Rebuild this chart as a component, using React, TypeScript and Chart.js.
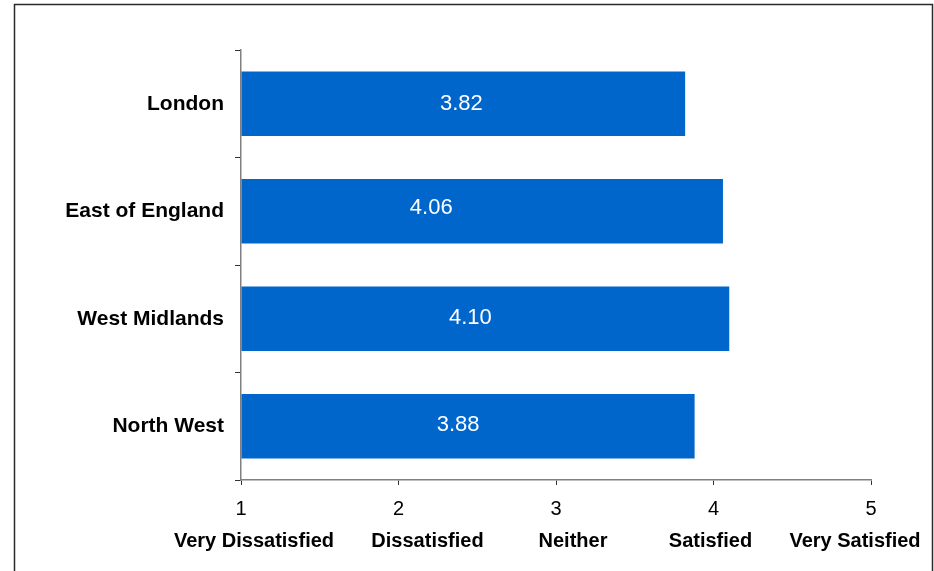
import React, { useEffect, useRef } from "react";
import { Chart, registerables } from "chart.js";

Chart.register(...registerables);

const regions = ["London", "East of England", "West Midlands", "North West"];
const scores = [3.82, 4.06, 4.1, 3.88];
const scaleValues = [1, 2, 3, 4, 5];
const scaleLabels = ["Very Dissatisfied", "Dissatisfied", "Neither", "Satisfied", "Very Satisfied"];

const FONT = "'Liberation Sans', Arial, Helvetica, sans-serif";
const AXIS_GRAY = "#808080";

const framePlugin = {
  id: "frame",
  afterDraw(chart: any) {
    const ctx = chart.ctx;
    ctx.save();
    ctx.strokeStyle = "#2a2a2a";
    ctx.lineWidth = 1.5;
    ctx.strokeRect(14.5, 4.5, 918, 620);
    ctx.restore();
  },
};

// value labels sit inside each bar, nudged as in the original
const labelNudgeX = [-2, -51, -15, -10];
const labelNudgeY = [0, -3, -1, -1];
const valueLabelPlugin = {
  id: "valueLabels",
  afterDatasetsDraw(chart: any) {
    const ctx = chart.ctx;
    const meta = chart.getDatasetMeta(0);
    const data = chart.data.datasets[0].data as number[];
    ctx.save();
    ctx.fillStyle = "#ffffff";
    ctx.font = `22px ${FONT}`;
    ctx.textAlign = "center";
    ctx.textBaseline = "middle";
    meta.data.forEach((bar: any, i: number) => {
      const cx = (bar.x + bar.base) / 2 + labelNudgeX[i];
      ctx.fillText(data[i].toFixed(2), cx, bar.y + labelNudgeY[i]);
    });
    ctx.restore();
  },
};

// second row of x-axis captions, placed under each scale tick with small nudges
const captionNudge = [13, 29, 17, -3, -16];
const captionPlugin = {
  id: "captions",
  afterDraw(chart: any) {
    const ctx = chart.ctx;
    const xs = chart.scales.x;
    ctx.save();
    ctx.fillStyle = "#000";
    ctx.font = `bold 20px ${FONT}`;
    ctx.textAlign = "center";
    ctx.textBaseline = "middle";
    scaleValues.forEach((v, i) => {
      ctx.fillText(scaleLabels[i], xs.getPixelForValue(v) + captionNudge[i], xs.top + 61);
    });
    ctx.restore();
  },
};

export default function App() {
  const ref = useRef<HTMLCanvasElement>(null);
  useEffect(() => {
    if (!ref.current) return;
    const chart = new Chart(ref.current, {
      type: "bar",
      data: {
        labels: regions,
        datasets: [
          {
            data: scores,
            backgroundColor: "#0066CC",
            borderWidth: 0,
            categoryPercentage: 1,
            barPercentage: 0.6,
            base: 1,
          } as any,
        ],
      },
      options: {
        indexAxis: "y",
        responsive: false,
        animation: false,
        layout: { padding: { left: 0, top: 50, right: 63, bottom: 0 } },
        plugins: { legend: { display: false }, tooltip: { enabled: false } },
        scales: {
          y: {
            type: "category",
            offset: true,
            grid: {
              offset: true,
              drawOnChartArea: false,
              tickLength: 6,
              color: "#333",
              lineWidth: 1,
            },
            border: { color: AXIS_GRAY, width: 1.5 },
            ticks: {
              color: "#000",
              font: { family: FONT, size: 21, weight: "bold" },
              padding: 11,
            },
            afterFit: (s: any) => {
              s.width = 241;
            },
          },
          x: {
            type: "linear",
            position: "bottom",
            min: 1,
            max: 5,
            grid: {
              drawOnChartArea: false,
              tickLength: 5,
              color: "#333",
              lineWidth: 1,
            },
            border: { color: AXIS_GRAY, width: 1.5 },
            ticks: {
              stepSize: 1,
              color: "#000",
              font: { family: FONT, size: 20 },
              padding: 12,
              callback: (v: any) => (scaleValues.includes(Number(v)) ? String(v) : ""),
            },
            afterFit: (s: any) => {
              s.height = 91;
            },
          },
        },
      } as any,
      plugins: [framePlugin, valueLabelPlugin, captionPlugin],
    });
    return () => chart.destroy();
  }, []);
  return (
    <div style={{ position: "absolute", left: 0, top: 0, width: 934, height: 571, background: "#fff" }}>
      <canvas ref={ref} width={934} height={571} />
    </div>
  );
}
